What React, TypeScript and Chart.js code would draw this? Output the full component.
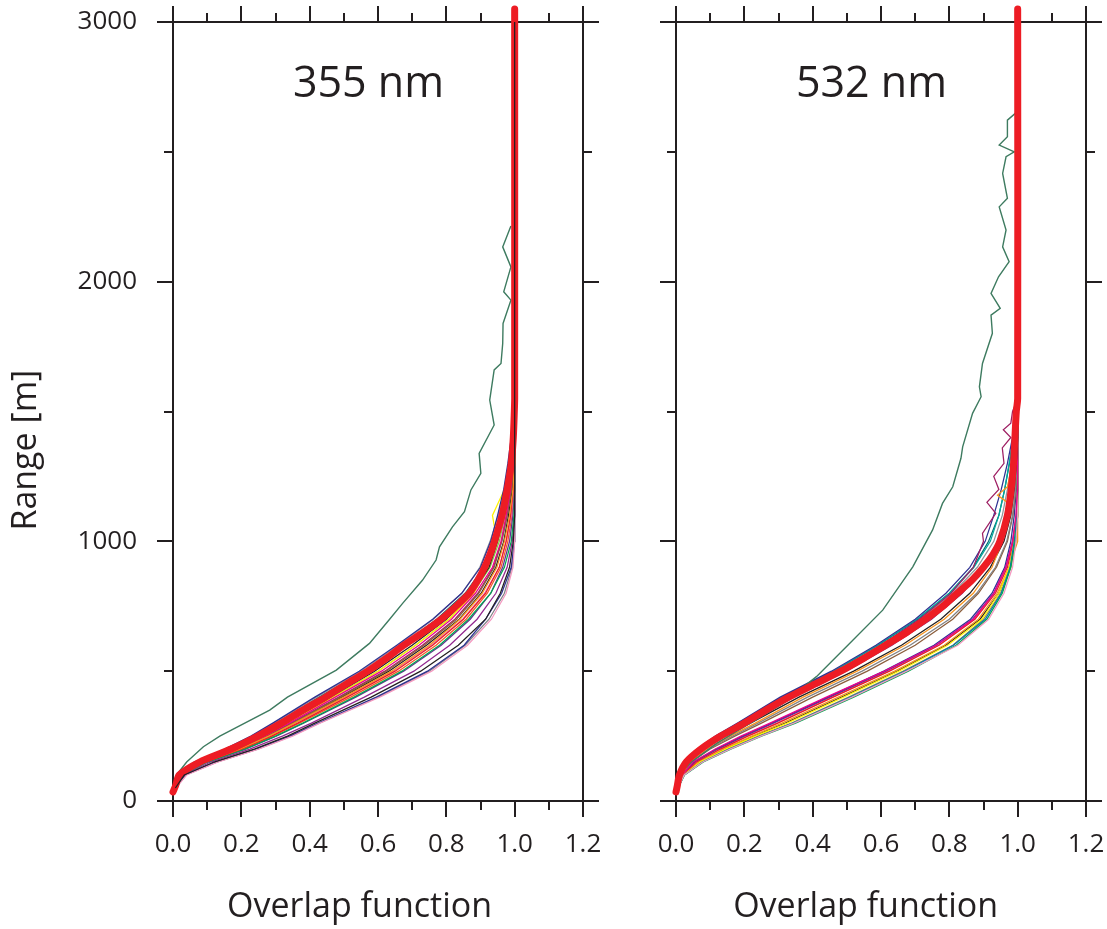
import React, { useEffect, useRef } from 'react';
import { Chart, registerables } from 'chart.js';

Chart.register(...registerables);

// ---------- tick / label data ----------
const X_MAJOR_TICKS = [0, 0.2, 0.4, 0.6, 0.8, 1.0, 1.2];
const X_MINOR_TICKS = [0.1, 0.3, 0.5, 0.7, 0.9, 1.1];
const Y_MAJOR_TICKS = [0, 1000, 2000, 3000];
const Y_MINOR_TICKS = [500, 1500, 2500];
const PANEL_LABELS = ['355 nm', '532 nm'];
const X_TITLE = 'Overlap function';
const Y_TITLE = 'Range [m]';

// common range grid (m) of the individual overlap profiles
const RANGES = [50, 100, 150, 200, 250, 300, 400, 500, 600, 700, 800, 900, 1000, 1100, 1200, 1300, 1400, 1500];

// ---------- 355 nm ----------
const MEAN_RANGES_355 = [35, 60, 100, 150, 200, 250, 300, 350, 400, 450, 500, 550, 600, 650, 700, 750, 800, 850, 900, 950, 1000, 1100, 1200, 1300, 1400, 1500, 1550, 3050];
const MEAN_355 = [0.0, 0.008, 0.018, 0.078, 0.17, 0.248, 0.317, 0.38, 0.446, 0.507, 0.57, 0.625, 0.676, 0.733, 0.785, 0.828, 0.867, 0.892, 0.912, 0.928, 0.941, 0.963, 0.978, 0.99, 0.996, 0.999, 1.0, 1.0];

const OUTLIER_RANGES_355 = [60, 100, 150, 209, 250, 350, 400, 504, 607, 700, 761, 850, 928, 979, 1056, 1114, 1198, 1262, 1339, 1448, 1544, 1660, 1685, 1762, 1839, 1929, 1961, 2057, 2134, 2214];
const OUTLIER_355 = [0.002, 0.01, 0.04, 0.089, 0.137, 0.283, 0.335, 0.478, 0.575, 0.634, 0.672, 0.73, 0.77, 0.78, 0.818, 0.853, 0.872, 0.901, 0.896, 0.94, 0.927, 0.94, 0.96, 0.965, 0.966, 0.989, 0.968, 0.989, 0.965, 0.989];

const THROUGH_RANGES_355 = [50, 100, 150, 200, 250, 300, 400, 500, 600, 700, 800, 900, 1000, 1100, 3000];
const THROUGH_355 = [0.007, 0.033, 0.12, 0.238, 0.335, 0.415, 0.58, 0.725, 0.835, 0.915, 0.958, 0.985, 0.996, 1.0, 1.0];

const THIN_355 = [
  [0.003, 0.013, 0.062, 0.152, 0.228, 0.292, 0.415, 0.545, 0.655, 0.76, 0.845, 0.9, 0.93, 0.95, 0.968, 0.98, 0.99, 1.0],
  [0.004, 0.014, 0.065, 0.155, 0.232, 0.296, 0.42, 0.55, 0.66, 0.762, 0.845, 0.898, 0.928, 0.952, 0.97, 0.985, 0.995, 1.0],
  [0.004, 0.016, 0.07, 0.162, 0.24, 0.305, 0.43, 0.56, 0.67, 0.775, 0.858, 0.912, 0.94, 0.96, 0.975, 0.988, 0.996, 1.0],
  [0.005, 0.017, 0.072, 0.165, 0.245, 0.31, 0.435, 0.565, 0.675, 0.78, 0.862, 0.915, 0.942, 0.96, 0.978, 0.99, 0.997, 1.0],
  [0.005, 0.02, 0.08, 0.18, 0.26, 0.33, 0.46, 0.59, 0.7, 0.8, 0.875, 0.925, 0.95, 0.968, 0.982, 0.992, 0.998, 1.0],
  [0.006, 0.022, 0.085, 0.185, 0.268, 0.34, 0.475, 0.61, 0.72, 0.815, 0.885, 0.935, 0.96, 0.975, 0.988, 0.996, 1.0, 1.0],
  [0.005, 0.02, 0.082, 0.182, 0.265, 0.335, 0.47, 0.6, 0.71, 0.808, 0.88, 0.922, 0.948, 0.935, 0.97, 0.985, 0.995, 1.0],
  [0.006, 0.024, 0.09, 0.195, 0.28, 0.355, 0.5, 0.64, 0.75, 0.84, 0.905, 0.948, 0.97, 0.985, 0.995, 1.0, 1.0, 1.0],
  [0.006, 0.025, 0.095, 0.2, 0.288, 0.365, 0.51, 0.65, 0.76, 0.85, 0.915, 0.955, 0.975, 0.988, 0.996, 1.0, 1.0, 1.0],
  [0.006, 0.026, 0.1, 0.21, 0.3, 0.38, 0.53, 0.67, 0.78, 0.865, 0.93, 0.97, 0.99, 0.998, 1.0, 1.0, 1.0, 1.0],
  [0.005, 0.022, 0.088, 0.19, 0.275, 0.35, 0.49, 0.625, 0.735, 0.83, 0.895, 0.94, 0.962, 0.978, 0.99, 0.997, 1.0, 1.0],
  [0.007, 0.03, 0.11, 0.225, 0.32, 0.405, 0.56, 0.705, 0.81, 0.89, 0.945, 0.978, 0.993, 1.0, 1.0, 1.0, 1.0, 1.0],
  [0.008, 0.04, 0.13, 0.25, 0.35, 0.43, 0.605, 0.757, 0.862, 0.932, 0.975, 0.995, 1.0, 1.0, 1.0, 1.0, 1.0, 1.0],
  [0.007, 0.035, 0.125, 0.245, 0.342, 0.425, 0.595, 0.745, 0.852, 0.915, 0.962, 0.99, 0.999, 1.0, 1.0, 1.0, 1.0, 1.0],
  [0.008, 0.038, 0.128, 0.248, 0.346, 0.428, 0.6, 0.75, 0.855, 0.925, 0.97, 0.992, 1.0, 1.0, 1.0, 1.0, 1.0, 1.0],
  [0.005, 0.018, 0.074, 0.166, 0.246, 0.312, 0.438, 0.568, 0.676, 0.782, 0.865, 0.918, 0.944, 0.962, 0.98, 0.99, 0.996, 1.0],
  [0.006, 0.023, 0.088, 0.19, 0.273, 0.345, 0.485, 0.62, 0.73, 0.825, 0.892, 0.938, 0.962, 0.978, 0.99, 0.997, 1.0, 1.0],
  [0.005, 0.021, 0.083, 0.182, 0.264, 0.336, 0.468, 0.6, 0.71, 0.808, 0.878, 0.928, 0.955, 0.972, 0.985, 0.994, 0.999, 1.0],
  [0.006, 0.027, 0.1, 0.212, 0.302, 0.382, 0.535, 0.675, 0.785, 0.87, 0.93, 0.965, 0.985, 0.995, 1.0, 1.0, 1.0, 1.0],
  [0.006, 0.024, 0.092, 0.198, 0.283, 0.358, 0.505, 0.645, 0.755, 0.848, 0.912, 0.955, 0.975, 0.99, 0.998, 1.0, 1.0, 1.0],
  [0.004, 0.015, 0.068, 0.16, 0.238, 0.302, 0.428, 0.558, 0.668, 0.772, 0.855, 0.91, 0.937, 0.958, 0.975, 0.987, 0.995, 1.0],
  [0.006, 0.026, 0.098, 0.205, 0.292, 0.37, 0.52, 0.66, 0.77, 0.858, 0.92, 0.96, 0.98, 0.992, 0.998, 1.0, 1.0, 1.0],
  [0.006, 0.023, 0.09, 0.192, 0.278, 0.352, 0.495, 0.632, 0.742, 0.838, 0.902, 0.945, 0.968, 0.982, 0.993, 0.998, 1.0, 1.0],
];
const THIN_COLORS_355 = [
  '#2e3192', '#939598', '#00a99d', '#0072bc', '#231f20', '#ec008c', '#fff200', '#f7941d',
  '#ed1c24', '#00a651', '#8b5e3c', '#92278f', '#f49ac1', '#2e3192', '#808285', '#00aeef',
  '#9e1f63', '#8dc63f', '#662d91', '#f06eaa', '#006a70', '#f15a29', '#231f20',
];

// ---------- 532 nm ----------
const MEAN_RANGES_532 = [35, 60, 100, 150, 200, 250, 300, 350, 400, 450, 500, 550, 600, 650, 700, 750, 800, 850, 900, 950, 1000, 1100, 1200, 1300, 1400, 1500, 1550, 3050];
const MEAN_532 = [0.0, 0.004, 0.01, 0.03, 0.073, 0.131, 0.2, 0.263, 0.33, 0.406, 0.482, 0.55, 0.613, 0.676, 0.73, 0.781, 0.823, 0.866, 0.9, 0.928, 0.948, 0.97, 0.981, 0.988, 0.992, 0.996, 1.0, 1.0];

const OUTLIER_RANGES_532 = [60, 107, 150, 222, 299, 376, 479, 607, 735, 902, 1044, 1146, 1210, 1320, 1364, 1493, 1557, 1595, 1685, 1801, 1871, 1897, 1955, 2019, 2077, 2134, 2199, 2288, 2321, 2417, 2481, 2500, 2526, 2558, 2622, 2648];
const OUTLIER_532 = [0.003, 0.012, 0.045, 0.119, 0.216, 0.313, 0.411, 0.508, 0.605, 0.693, 0.751, 0.78, 0.81, 0.834, 0.839, 0.868, 0.893, 0.888, 0.897, 0.926, 0.922, 0.949, 0.922, 0.944, 0.975, 0.956, 0.966, 0.946, 0.97, 0.956, 0.966, 0.99, 0.946, 0.97, 0.97, 0.993];

const THIN_532 = [
  [0.003, 0.01, 0.025, 0.062, 0.115, 0.18, 0.305, 0.455, 0.585, 0.7, 0.79, 0.86, 0.905, 0.93, 0.952, 0.97, 0.985, 1.0],
  [0.003, 0.011, 0.026, 0.064, 0.118, 0.184, 0.31, 0.46, 0.59, 0.705, 0.8, 0.872, 0.92, 0.945, 0.962, 0.975, 0.988, 1.0],
  [0.004, 0.012, 0.028, 0.068, 0.124, 0.19, 0.318, 0.468, 0.6, 0.715, 0.81, 0.882, 0.93, 0.955, 0.97, 0.982, 0.992, 1.0],
  [0.004, 0.014, 0.035, 0.082, 0.145, 0.218, 0.36, 0.52, 0.66, 0.775, 0.86, 0.92, 0.96, 0.98, 0.99, 0.996, 1.0, 1.0],
  [0.005, 0.018, 0.05, 0.115, 0.19, 0.275, 0.44, 0.61, 0.76, 0.87, 0.93, 0.965, 0.985, 0.995, 1.0, 1.0, 1.0, 1.0],
  [0.006, 0.024, 0.078, 0.158, 0.248, 0.345, 0.515, 0.675, 0.825, 0.915, 0.96, 0.985, 0.995, 1.0, 1.0, 1.0, 1.0, 1.0],
  [0.006, 0.025, 0.08, 0.16, 0.25, 0.35, 0.52, 0.68, 0.82, 0.91, 0.955, 0.98, 0.993, 1.0, 1.0, 1.0, 1.0, 1.0],
  [0.006, 0.024, 0.077, 0.155, 0.245, 0.342, 0.51, 0.67, 0.812, 0.905, 0.952, 0.978, 0.99, 0.998, 1.0, 1.0, 1.0, 1.0],
  [0.005, 0.022, 0.07, 0.145, 0.232, 0.325, 0.49, 0.652, 0.795, 0.895, 0.945, 0.975, 0.99, 0.998, 1.0, 1.0, 1.0, 1.0],
  [0.006, 0.023, 0.075, 0.152, 0.24, 0.338, 0.505, 0.665, 0.81, 0.9, 0.95, 0.98, 0.995, 1.0, 1.0, 1.0, 1.0, 1.0],
  [0.005, 0.02, 0.06, 0.13, 0.21, 0.298, 0.46, 0.625, 0.77, 0.875, 0.935, 0.97, 0.988, 0.997, 1.0, 1.0, 1.0, 1.0],
  [0.005, 0.021, 0.065, 0.138, 0.222, 0.31, 0.475, 0.64, 0.785, 0.885, 0.94, 0.975, 1.0, 1.0, 1.0, 1.0, 1.0, 1.0],
  [0.005, 0.016, 0.042, 0.095, 0.165, 0.24, 0.385, 0.545, 0.685, 0.8, 0.88, 0.935, 0.968, 0.985, 0.994, 0.998, 1.0, 1.0],
  [0.005, 0.019, 0.055, 0.122, 0.2, 0.285, 0.45, 0.615, 0.762, 0.868, 0.93, 0.965, 0.985, 0.996, 1.0, 1.0, 1.0, 1.0],
  [0.004, 0.013, 0.032, 0.076, 0.136, 0.206, 0.338, 0.49, 0.622, 0.738, 0.83, 0.9, 0.945, 0.968, 0.98, 0.988, 0.995, 1.0],
  [0.003, 0.011, 0.027, 0.066, 0.12, 0.186, 0.312, 0.462, 0.592, 0.708, 0.8, 0.87, 0.915, 0.945, 0.962, 0.976, 0.988, 1.0],
  [0.005, 0.02, 0.058, 0.128, 0.208, 0.295, 0.458, 0.622, 0.768, 0.872, 0.932, 0.968, 0.987, 0.996, 1.0, 1.0, 1.0, 1.0],
  [0.005, 0.017, 0.045, 0.1, 0.172, 0.25, 0.4, 0.56, 0.7, 0.81, 0.885, 0.938, 0.97, 0.986, 0.995, 1.0, 1.0, 1.0],
  [0.006, 0.022, 0.068, 0.142, 0.228, 0.32, 0.485, 0.648, 0.79, 0.89, 0.945, 0.975, 0.99, 0.998, 1.0, 1.0, 1.0, 1.0],
  [0.005, 0.018, 0.052, 0.118, 0.195, 0.28, 0.445, 0.608, 0.755, 0.862, 0.925, 0.962, 0.98, 0.99, 0.996, 1.0, 1.0, 1.0],
  [0.004, 0.013, 0.033, 0.078, 0.14, 0.21, 0.345, 0.498, 0.632, 0.748, 0.838, 0.905, 0.948, 0.97, 0.982, 0.99, 0.996, 1.0],
];
const THIN_COLORS_532 = [
  '#2e3192', '#00a99d', '#939598', '#231f20', '#ec008c', '#f49ac1', '#00a651', '#0072bc',
  '#fff200', '#a19a3c', '#ed1c24', '#f7941d', '#808285', '#662d91', '#00aeef', '#006a70',
  '#f06eaa', '#8b5e3c', '#231f20', '#2e3192', '#9e1f63',
];

const ZIG_PURPLE_RANGES_532 = [50, 100, 150, 200, 250, 300, 400, 500, 600, 700, 800, 900, 1000, 1031, 1108, 1150, 1200, 1250, 1300, 1360, 1400, 1430, 1455, 1500, 1550];
const ZIG_PURPLE_532 = [0.004, 0.012, 0.03, 0.07, 0.128, 0.195, 0.322, 0.47, 0.6, 0.712, 0.805, 0.87, 0.9, 0.897, 0.936, 0.91, 0.945, 0.93, 0.96, 0.955, 0.98, 0.958, 0.98, 0.985, 1.0];
const ZIG_ORANGE_RANGES_532 = [50, 100, 150, 200, 250, 300, 400, 500, 600, 700, 800, 900, 1000, 1100, 1150, 1178, 1210, 1300, 1400, 1500];
const ZIG_ORANGE_532 = [0.005, 0.016, 0.04, 0.09, 0.158, 0.232, 0.372, 0.53, 0.67, 0.785, 0.87, 0.925, 0.955, 0.968, 0.97, 0.941, 0.97, 0.985, 0.995, 1.0];

// ---------- styles ----------
const AXIS_COLOR = '#231f20';
const MEAN_COLOR = '#ed1c24';
const OUTLIER_COLOR = '#3e7b60';
const FONT = "'Open Sans', 'Noto Sans', sans-serif";

const pts = (ranges: number[], values: number[]) => values.map((v, i) => ({ x: v, y: ranges[i] }));

const CLIP = { left: 10, top: 20, right: 10, bottom: 10 };

function thinDs(ranges: number[], values: number[], color: string) {
  return {
    data: pts(ranges, values),
    borderColor: color,
    borderWidth: 1.25,
    showLine: true,
    pointRadius: 0,
    tension: 0,
    clip: CLIP,
  };
}

function buildDatasets(panel: number) {
  const ds: any[] = [];
  if (panel === 0) {
    ds.push(thinDs(THROUGH_RANGES_355, THROUGH_355, '#231f20'));
  }
  const meanR = panel === 0 ? MEAN_RANGES_355 : MEAN_RANGES_532;
  const mean = panel === 0 ? MEAN_355 : MEAN_532;
  ds.push({
    data: pts(meanR, mean),
    borderColor: MEAN_COLOR,
    borderWidth: 7,
    borderCapStyle: 'round',
    borderJoinStyle: 'round',
    showLine: true,
    pointRadius: 0,
    tension: 0.25,
    clip: CLIP,
  });
  const outR = panel === 0 ? OUTLIER_RANGES_355 : OUTLIER_RANGES_532;
  const out = panel === 0 ? OUTLIER_355 : OUTLIER_532;
  ds.push({ ...thinDs(outR, out, OUTLIER_COLOR), borderWidth: 1.4 });
  if (panel === 1) {
    ds.push(thinDs(ZIG_PURPLE_RANGES_532, ZIG_PURPLE_532, '#9e1f63'));
    ds.push(thinDs(ZIG_ORANGE_RANGES_532, ZIG_ORANGE_532, '#f7941d'));
  }
  const thin = panel === 0 ? THIN_355 : THIN_532;
  const colors = panel === 0 ? THIN_COLORS_355 : THIN_COLORS_532;
  thin.forEach((vals, i) => ds.push(thinDs(RANGES, vals, colors[i % colors.length])));
  return ds;
}

const framePlugin = {
  id: 'frameTicks',
  beforeDatasetsDraw(chart: any) {
    const { ctx, chartArea } = chart;
    const { left, right, top, bottom } = chartArea;
    const xs = chart.scales.x;
    const ys = chart.scales.y;
    ctx.save();
    ctx.strokeStyle = AXIS_COLOR;
    ctx.lineWidth = 2;
    ctx.lineCap = 'butt';
    ctx.beginPath();
    ctx.rect(left, top, right - left, bottom - top);
    const xt = (vals: number[], len: number) => {
      vals.forEach((v) => {
        const p = Math.round(xs.getPixelForValue(v));
        ctx.moveTo(p, top);
        ctx.lineTo(p, top - len);
        ctx.moveTo(p, bottom);
        ctx.lineTo(p, bottom + len);
      });
    };
    const yt = (vals: number[], len: number) => {
      vals.forEach((v) => {
        const p = Math.round(ys.getPixelForValue(v));
        ctx.moveTo(left, p);
        ctx.lineTo(left - len, p);
        ctx.moveTo(right, p);
        ctx.lineTo(right + len, p);
      });
    };
    xt(X_MAJOR_TICKS, 16);
    xt(X_MINOR_TICKS, 9);
    yt(Y_MAJOR_TICKS, 16);
    yt(Y_MINOR_TICKS, 9);
    ctx.stroke();
    ctx.restore();
  },
};

const textPlugin = {
  id: 'panelText',
  afterDraw(chart: any, _args: any, opts: any) {
    const { ctx, chartArea } = chart;
    const xs = chart.scales.x;
    const ys = chart.scales.y;
    ctx.save();
    ctx.fillStyle = AXIS_COLOR;
    ctx.textAlign = 'center';
    ctx.textBaseline = 'alphabetic';
    ctx.font = `43px ${FONT}`;
    ctx.fillText(opts.label, xs.getPixelForValue(0.572), ys.getPixelForValue(2711));
    ctx.font = `34px ${FONT}`;
    ctx.fillText(X_TITLE, xs.getPixelForValue(opts.xTitleAt), chartArea.bottom + 116);
    if (opts.yTitle) {
      ctx.translate(36, ys.getPixelForValue(1351));
      ctx.rotate(-Math.PI / 2);
      ctx.font = `34px ${FONT}`;
      ctx.fillText(Y_TITLE, 0, 0);
    }
    ctx.restore();
  },
};

function makeConfig(panel: number, yWidth: number, rightPad: number): any {
  return {
    type: 'scatter',
    data: { datasets: buildDatasets(panel) },
    plugins: [framePlugin, textPlugin],
    options: {
      responsive: false,
      animation: false,
      devicePixelRatio: 1,
      layout: { padding: { left: 0, right: rightPad, top: 22, bottom: 0 } },
      plugins: {
        legend: { display: false },
        tooltip: { enabled: false },
        panelText: { label: PANEL_LABELS[panel], xTitleAt: panel === 0 ? 0.546 : 0.555, yTitle: panel === 0 },
      },
      scales: {
        x: {
          type: 'linear',
          min: 0,
          max: 1.2,
          // tick marks are drawn by the frame plugin; tickLength only offsets the labels
          grid: { display: false, drawTicks: true, tickLength: 28 },
          border: { display: false },
          ticks: {
            stepSize: 0.2,
            padding: 0,
            color: AXIS_COLOR,
            font: { size: 26, family: FONT },
            maxRotation: 0,
            callback: (v: any) => Number(v).toFixed(1),
          },
          afterFit: (s: any) => {
            s.height = 128;
          },
        },
        y: {
          type: 'linear',
          min: 0,
          max: 3000,
          grid: { display: false, drawTicks: true, tickLength: 36 },
          border: { display: false },
          ticks: {
            display: panel === 0,
            stepSize: 1000,
            padding: 0,
            color: AXIS_COLOR,
            font: { size: 26, family: FONT },
            callback: (v: any) => String(v),
          },
          afterFit: (s: any) => {
            s.width = yWidth;
          },
        },
      },
    },
  };
}

export default function App() {
  const leftRef = useRef<HTMLCanvasElement>(null);
  const rightRef = useRef<HTMLCanvasElement>(null);

  useEffect(() => {
    const charts: Chart[] = [];
    if (leftRef.current) charts.push(new Chart(leftRef.current, makeConfig(0, 173, 620 - 583)));
    if (rightRef.current) charts.push(new Chart(rightRef.current, makeConfig(1, 56, 540 - 466)));
    return () => charts.forEach((c) => c.destroy());
  }, []);

  return (
    <div
      style={{
        position: 'absolute',
        left: 0,
        top: 0,
        width: 1107,
        height: 929,
        overflow: 'hidden',
        background: '#ffffff',
      }}
    >
      <canvas ref={leftRef} width={620} height={929} style={{ position: 'absolute', left: 0, top: 0 }} />
      <canvas ref={rightRef} width={540} height={929} style={{ position: 'absolute', left: 620, top: 0 }} />
    </div>
  );
}
